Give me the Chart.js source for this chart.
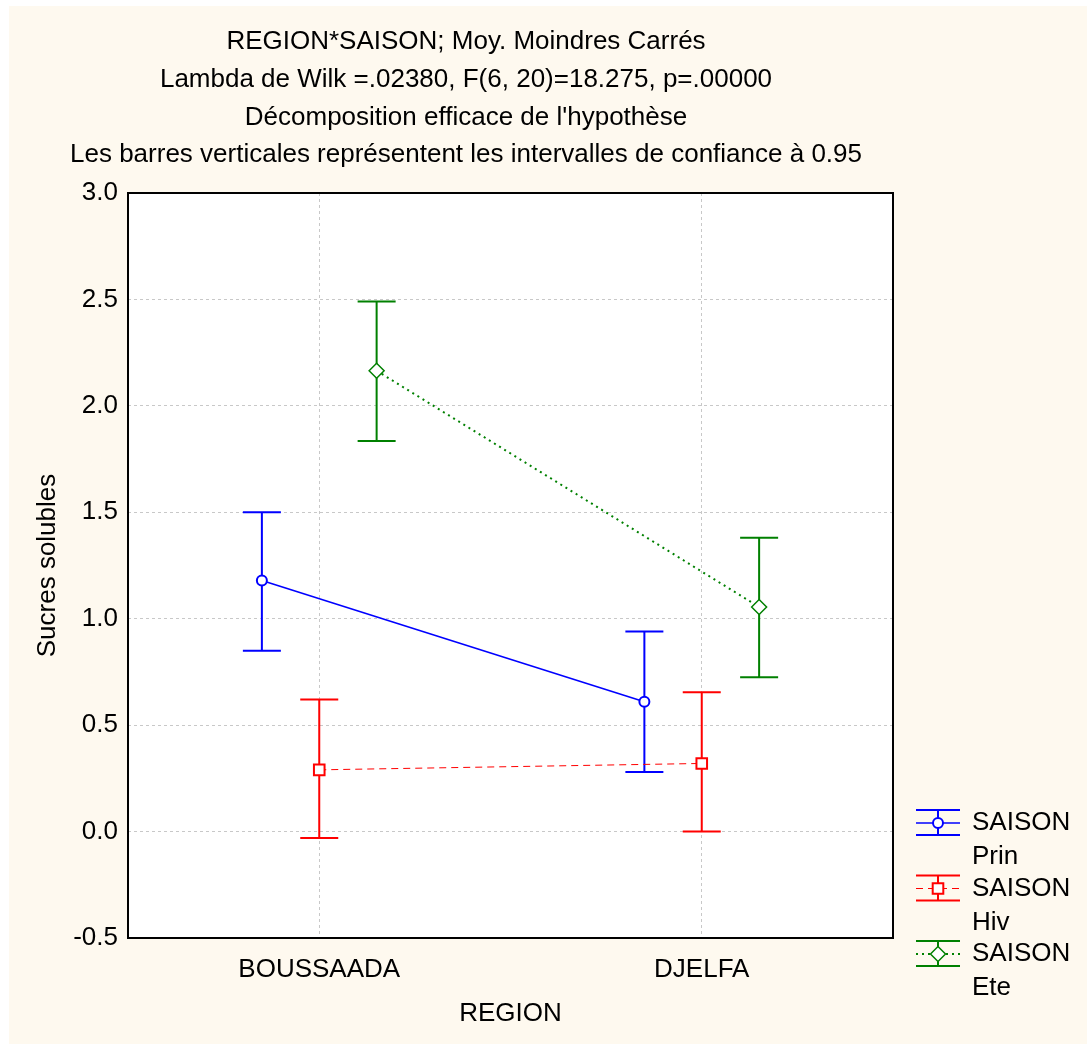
<!DOCTYPE html>
<html>
<head>
<meta charset="utf-8">
<script src="https://cdn.jsdelivr.net/npm/chart.js@4/dist/chart.umd.min.js"></script>
<style>
  html, body { margin: 0; padding: 0; background: #fff; }
  #wrap { width: 1087px; height: 1044px; }
</style>
</head>
<body>
<div id="wrap"><canvas id="chart" width="1087" height="1044"></canvas></div>
<script>
const titleLines = [
  "REGION*SAISON; Moy. Moindres Carrés",
  "Lambda de Wilk =.02380, F(6, 20)=18.275, p=.00000",
  "Décomposition efficace de l'hypothèse",
  "Les barres verticales représentent les intervalles de confiance à 0.95",
];
const regions = ["BOUSSAADA", "DJELFA"];
const yTicks = [-0.5, 0, 0.5, 1.0, 1.5, 2.0, 2.5, 3.0];

// moyennes et bornes de l'IC 95% par saison
const prinMean = [1.18, 0.61];
const prinLow = [0.85, 0.28];
const prinHigh = [1.50, 0.94];

const hivMean = [0.29, 0.32];
const hivLow = [-0.03, 0.0];
const hivHigh = [0.62, 0.655];

const eteMean = [2.165, 1.055];
const eteLow = [1.835, 0.725];
const eteHigh = [2.49, 1.38];

const FONT = "'Liberation Sans', Arial, sans-serif";
const FONT_SIZE = 26;
const CREAM = "#fef9ef";

// each region sits at 1, 3 on a 0..4 axis; seasons are shifted sideways
function regionX(i) {
  return i * 2 + 1;
}

function makeSeries(label, color, shift, means, lows, highs, style) {
  return {
    label: label,
    data: means.map((m, i) => ({ x: regionX(i) + shift, y: m })),
    low: lows,
    high: highs,
    borderColor: color,
    backgroundColor: "#ffffff",
    pointBackgroundColor: "#ffffff",
    pointBorderColor: color,
    ...style,
  };
}

const datasets = [
  makeSeries(["SAISON", "Prin"], "#0000ff", -0.3, prinMean, prinLow, prinHigh, {
    borderWidth: 1.6,
    pointStyle: "circle",
    pointRadius: 5,
    pointBorderWidth: 2,
  }),
  makeSeries(["SAISON", "Hiv"], "#ff0000", 0, hivMean, hivLow, hivHigh, {
    borderWidth: 1,
    borderDash: [7, 5],
    pointStyle: "rect",
    pointRadius: 7.5,
    pointBorderWidth: 2,
  }),
  makeSeries(["SAISON", "Ete"], "#008000", 0.3, eteMean, eteLow, eteHigh, {
    borderWidth: 2,
    borderDash: [2, 4],
    pointStyle: "rectRot",
    pointRadius: 7.5,
    pointBorderWidth: 1.5,
  }),
];

const backgroundPlugin = {
  id: "background",
  beforeDraw(chart) {
    const { ctx, chartArea: a } = chart;
    ctx.save();
    ctx.fillStyle = "#ffffff";
    ctx.fillRect(0, 0, chart.width, chart.height);
    ctx.fillStyle = CREAM;
    ctx.fillRect(9, 6, chart.width - 9, chart.height - 6);
    ctx.fillStyle = "#ffffff";
    ctx.fillRect(a.left, a.top, a.right - a.left, a.bottom - a.top);
    ctx.restore();
  },
};

const titlePlugin = {
  id: "titleLines",
  afterDraw(chart) {
    const ctx = chart.ctx;
    ctx.save();
    ctx.font = FONT_SIZE + "px " + FONT;
    ctx.fillStyle = "#000";
    ctx.textAlign = "center";
    ctx.textBaseline = "middle";
    titleLines.forEach((line, i) => {
      ctx.fillText(line, 466, 42 + i * 37.7);
    });
    ctx.restore();
  },
};

// vertical confidence bars with caps, drawn under the line markers
const errorBarPlugin = {
  id: "errorBars",
  beforeDatasetsDraw(chart) {
    const { ctx, scales } = chart;
    ctx.save();
    ctx.lineWidth = 2;
    chart.data.datasets.forEach((ds) => {
      ctx.strokeStyle = ds.borderColor;
      ds.data.forEach((pt, i) => {
        const x = scales.x.getPixelForValue(pt.x);
        const y1 = scales.y.getPixelForValue(ds.low[i]);
        const y2 = scales.y.getPixelForValue(ds.high[i]);
        ctx.beginPath();
        ctx.moveTo(x, y1);
        ctx.lineTo(x, y2);
        ctx.moveTo(x - 19, y1);
        ctx.lineTo(x + 19, y1);
        ctx.moveTo(x - 19, y2);
        ctx.lineTo(x + 19, y2);
        ctx.stroke();
      });
    });
    ctx.restore();
  },
  afterDatasetsDraw(chart) {
    const { ctx, chartArea: a } = chart;
    ctx.save();
    ctx.strokeStyle = "#000";
    ctx.lineWidth = 2;
    ctx.strokeRect(a.left, a.top, a.right - a.left, a.bottom - a.top);
    ctx.restore();
  },
};

const legendPlugin = {
  id: "sideLegend",
  afterDraw(chart) {
    const ctx = chart.ctx;
    ctx.save();
    ctx.font = FONT_SIZE + "px " + FONT;
    ctx.textBaseline = "middle";
    chart.data.datasets.forEach((ds, i) => {
      const cy = 823 + i * 65.5;
      const x0 = 916, x1 = 960, cx = 938;
      ctx.strokeStyle = ds.borderColor;
      ctx.lineWidth = 2;
      ctx.setLineDash([]);
      ctx.beginPath();
      ctx.moveTo(x0, cy - 13);
      ctx.lineTo(x1, cy - 13);
      ctx.moveTo(x0, cy + 12);
      ctx.lineTo(x1, cy + 12);
      ctx.moveTo(cx, cy - 13);
      ctx.lineTo(cx, cy + 12);
      ctx.stroke();
      ctx.lineWidth = ds.borderWidth;
      ctx.setLineDash(ds.borderDash || []);
      ctx.beginPath();
      ctx.moveTo(x0, cy);
      ctx.lineTo(x1, cy);
      ctx.stroke();
      ctx.setLineDash([]);
      ctx.fillStyle = "#ffffff";
      ctx.strokeStyle = ds.borderColor;
      ctx.lineWidth = ds.pointBorderWidth;
      Chart.helpers.drawPoint(ctx, {
        pointStyle: ds.pointStyle,
        radius: ds.pointRadius,
        rotation: 0,
        borderWidth: ds.pointBorderWidth,
      }, cx, cy);
      ctx.fillStyle = "#000";
      ctx.textAlign = "left";
      ctx.fillText(ds.label[0], 972, cy);
      ctx.fillText(ds.label[1], 972, cy + 34);
    });
    ctx.restore();
  },
};

Chart.defaults.font.family = FONT;
Chart.defaults.color = "#000";

new Chart(document.getElementById("chart"), {
  type: "line",
  data: { datasets: datasets },
  options: {
    responsive: false,
    animation: false,
    layout: { padding: { top: 193, right: 194, bottom: 0, left: 0 } },
    plugins: {
      legend: { display: false },
      title: { display: false },
      tooltip: { enabled: false },
    },
    scales: {
      x: {
        type: "linear",
        min: 0,
        max: 4,
        afterBuildTicks(scale) {
          scale.ticks = regions.map((r, i) => ({ value: regionX(i) }));
        },
        afterFit(scale) {
          scale.height = 106;
        },
        ticks: {
          font: { size: FONT_SIZE },
          padding: 16,
          maxRotation: 0,
          callback: (v) => regions[(v - 1) / 2],
        },
        grid: { color: "#c8c8c8", lineWidth: 1, drawTicks: false },
        border: { display: false, dash: [3, 3] },
        title: {
          display: true,
          text: "REGION",
          font: { size: FONT_SIZE },
          padding: { top: 0, bottom: 15 },
        },
      },
      y: {
        type: "linear",
        min: -0.5,
        max: 3.0,
        afterBuildTicks(scale) {
          scale.ticks = yTicks.map((v) => ({ value: v }));
        },
        afterFit(scale) {
          scale.width = 128;
        },
        ticks: {
          font: { size: FONT_SIZE },
          padding: 10,
          callback: (v) => v.toFixed(1),
        },
        grid: { color: "#c8c8c8", lineWidth: 1, drawTicks: false },
        border: { display: false, dash: [3, 3] },
        title: {
          display: true,
          text: "Sucres solubles",
          font: { size: FONT_SIZE },
          padding: { top: 32, bottom: 0 },
        },
      },
    },
  },
  plugins: [backgroundPlugin, errorBarPlugin, titlePlugin, legendPlugin],
});
</script>
</body>
</html>
